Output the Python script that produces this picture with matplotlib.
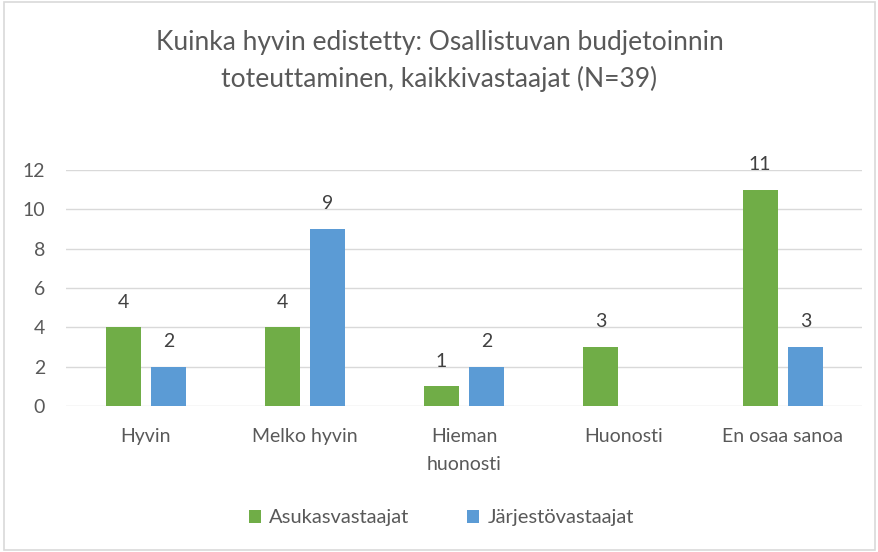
import numpy as np
import matplotlib.pyplot as plt
from matplotlib.patches import Rectangle

plt.rcParams['font.family'] = ['Lato', 'DejaVu Sans']

# Data
kategoriat = ['Hyvin', 'Melko hyvin', 'Hieman\nhuonosti', 'Huonosti', 'En osaa sanoa']
asukkaat = [4, 4, 1, 3, 11]
jarjestot = [2, 9, 2, 0, 3]
sarjat = ['Asukasvastaajat', 'Järjestövastaajat']
otsikko = 'Kuinka hyvin edistetty: Osallistuvan budjetoinnin\ntoteuttaminen, kaikkivastaajat (N=39)'

vihrea = '#70AD47'
sininen = '#5B9BD5'
teksti = '#595959'

fig = plt.figure(figsize=(8.79, 5.52), dpi=100)
ax = fig.add_axes([0.0751, 0.2645, 0.906, 0.4275])

x = np.arange(len(kategoriat))
leveys = 0.22
siirto = 0.142

b1 = ax.bar(x - siirto, asukkaat, leveys, color=vihrea, label=sarjat[0], zorder=3)
b2 = ax.bar(x + siirto, jarjestot, leveys, color=sininen, label=sarjat[1], zorder=3)

# Arvot palkkien päälle (nollia ei näytetä)
for palkit in (b1, b2):
    for p in palkit:
        h = p.get_height()
        if h > 0:
            ax.annotate(str(int(h)), (p.get_x() + p.get_width() / 2, h),
                        xytext=(0, 12), textcoords='offset points',
                        ha='center', va='bottom', fontsize=14, color='#404040')

ax.set_xlim(-0.5, len(kategoriat) - 0.5)
ax.set_ylim(0, 12)
ax.set_yticks(range(0, 13, 2))
ax.set_xticks(x)
ax.set_xticklabels(kategoriat, fontsize=14, color=teksti, linespacing=1.75)
ax.tick_params(axis='y', labelsize=14, colors=teksti, length=0, pad=15)
ax.tick_params(axis='x', length=0, pad=16)
ax.grid(axis='y', color='#D9D9D9', linewidth=1, zorder=0)
for s in ax.spines.values():
    s.set_visible(False)

fig.text(0.5, 0.889, otsikko, ha='center', va='center', fontsize=19,
         color=teksti, linespacing=1.5)

fig.legend(handles=[b1, b2], loc='center', bbox_to_anchor=(0.502, 0.062),
           ncol=2, frameon=False, fontsize=14.5, labelcolor=teksti,
           handlelength=0.6, handleheight=0.6, columnspacing=2.9, handletextpad=0.4)

# Kehys kaavion ympärille
fig.patches.append(Rectangle((0.004, 0.004), 0.992, 0.992, transform=fig.transFigure,
                             fill=False, edgecolor='#D9D9D9', linewidth=1.2))

fig.savefig('out.png', dpi=100)
